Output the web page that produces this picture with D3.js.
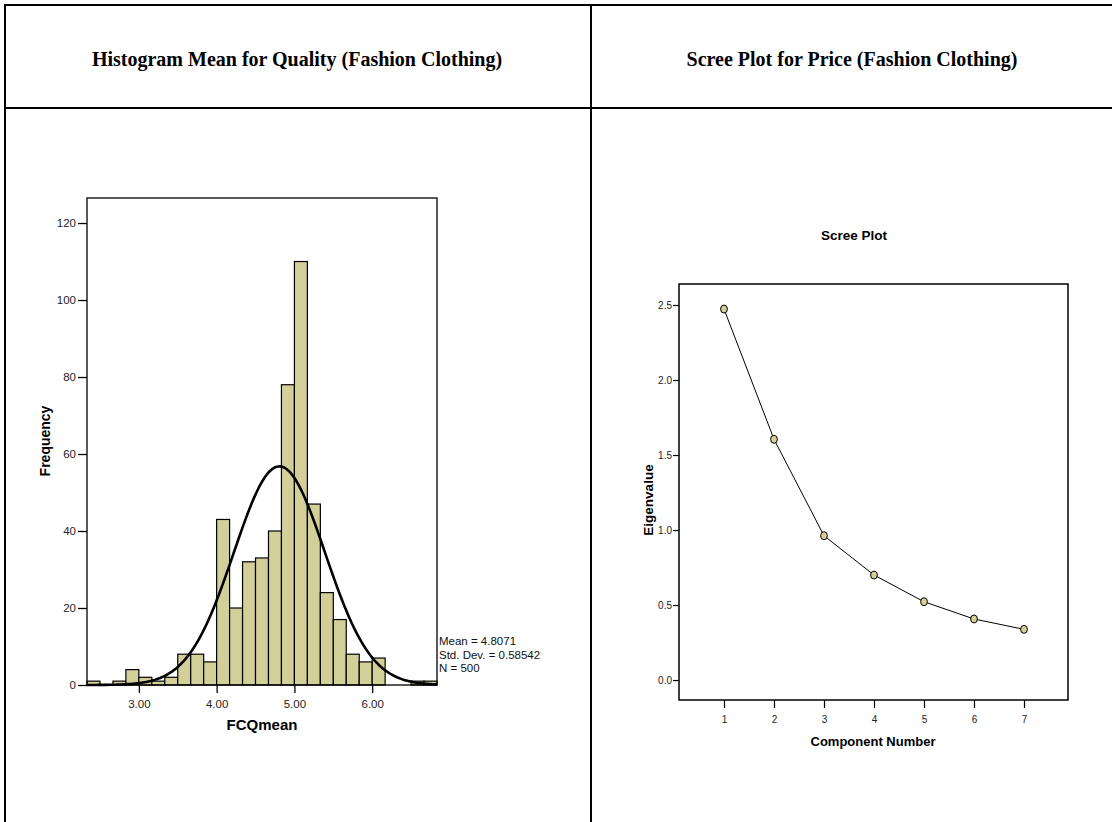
<!DOCTYPE html>
<html>
<head>
<meta charset="utf-8">
<script src="https://cdn.jsdelivr.net/npm/d3@7"></script>
<style>
  body { margin: 0; background: #fff; }
  svg { display: block; }
  .tick text { font-family: "Liberation Sans", Arial, sans-serif; fill: #222; }
</style>
</head>
<body>
<div id="chart"></div>
<script>
let width = 1112,
  height = 822

// histogram data (FCQmean)
let binStarts = [2.3333, 2.5, 2.6667, 2.8333, 3.0, 3.1667, 3.3333, 3.5, 3.6667, 3.8333,
  4.0, 4.1667, 4.3333, 4.5, 4.6667, 4.8333, 5.0, 5.1667, 5.3333, 5.5,
  5.6667, 5.8333, 6.0, 6.1667, 6.3333, 6.5, 6.6667]
let binWidth = 0.16667
let freqs = [1, 0, 1, 4, 2, 1, 2, 8, 8, 6,
  43, 20, 32, 33, 40, 78, 110, 47, 24, 17,
  8, 6, 7, 0, 0, 1, 1]
let histXTicks = [3, 4, 5, 6]
let histYTicks = [0, 20, 40, 60, 80, 100, 120]
let stats = { mean: 4.8071, sd: 0.58542, n: 500 }

// scree data
let components = [1, 2, 3, 4, 5, 6, 7]
let eigenvalues = [2.473, 1.605, 0.962, 0.700, 0.522, 0.407, 0.338]
let screeYTicks = [0.0, 0.5, 1.0, 1.5, 2.0, 2.5]

let titles = ['Histogram Mean for Quality (Fashion Clothing)', 'Scree Plot for Price (Fashion Clothing)']

let barFill = '#d3cf99'
let sans = '"Liberation Sans", Arial, sans-serif'

let svg = d3.select('#chart')
  .append('svg')
  .attr('width', width)
  .attr('height', height)

// table grid
let grid = svg.append('g').attr('stroke', '#000').attr('stroke-width', 2)
grid.append('line').attr('x1', 4).attr('x2', width).attr('y1', 5).attr('y2', 5)
grid.append('line').attr('x1', 4).attr('x2', width).attr('y1', 108).attr('y2', 108)
grid.append('line').attr('x1', 5).attr('x2', 5).attr('y1', 4).attr('y2', height)
grid.append('line').attr('x1', 591).attr('x2', 591).attr('y1', 4).attr('y2', height)

svg.selectAll('text.cell-title')
  .data(titles)
  .enter().append('text')
  .attr('class', 'cell-title')
  .attr('x', (d, i) => i == 0 ? 297 : 852)
  .attr('y', 66)
  .attr('text-anchor', 'middle')
  .attr('font-family', '"Liberation Serif", "Times New Roman", serif')
  .attr('font-weight', 'bold')
  .attr('font-size', '20px')
  .text(d => d)

// ---------- histogram ----------
let hx = d3.scaleLinear().domain([2.3333, 6.8333]).range([87, 437])
let hy = d3.scaleLinear().domain([0, 126.5]).range([685, 198])

let hist = svg.append('g')

hist.selectAll('rect.bar')
  .data(binStarts.map((b, i) => ({ x0: b, x1: b + binWidth, f: freqs[i] })))
  .enter().append('rect')
  .attr('class', 'bar')
  .attr('x', d => hx(d.x0))
  .attr('width', d => hx(d.x1) - hx(d.x0))
  .attr('y', d => hy(d.f))
  .attr('height', d => hy(0) - hy(d.f))
  .attr('fill', barFill)
  .attr('stroke', '#000')
  .attr('stroke-width', 1.2)

// fitted normal curve from the stated mean / sd / N
let normal = x => stats.n * binWidth * Math.exp(-0.5 * Math.pow((x - stats.mean) / stats.sd, 2)) / (stats.sd * Math.sqrt(2 * Math.PI))
let curveX = d3.range(hx.domain()[0], hx.domain()[1] + 0.001, 0.02)
hist.append('path')
  .datum(curveX)
  .attr('d', d3.line().x(d => hx(d)).y(d => hy(normal(d))))
  .attr('fill', 'none')
  .attr('stroke', '#000')
  .attr('stroke-width', 2.6)

// frame
hist.append('rect')
  .attr('x', 87).attr('y', 198)
  .attr('width', 350).attr('height', 487)
  .attr('fill', 'none')
  .attr('stroke', '#000')
  .attr('stroke-width', 1.3)

hist.append('g')
  .attr('transform', 'translate(0,685)')
  .call(d3.axisBottom(hx).tickValues(histXTicks).tickFormat(d3.format('.2f')).tickSize(8).tickSizeOuter(0))
  .call(g => g.select('.domain').remove())
  .call(g => g.selectAll('line').attr('stroke-width', 1.3))
  .call(g => g.selectAll('text').attr('font-size', '11.5px').attr('dy', '1.05em'))

hist.append('g')
  .attr('transform', 'translate(87,0)')
  .call(d3.axisLeft(hy).tickValues(histYTicks).tickSize(9).tickSizeOuter(0))
  .call(g => g.select('.domain').remove())
  .call(g => g.selectAll('line').attr('stroke-width', 1.3))
  .call(g => g.selectAll('text').attr('font-size', '11.5px').attr('x', -11))

hist.append('text')
  .attr('x', 262).attr('y', 730)
  .attr('text-anchor', 'middle')
  .attr('font-family', sans).attr('font-weight', 'bold').attr('font-size', '15px')
  .text('FCQmean')

hist.append('text')
  .attr('transform', 'translate(50,441) rotate(-90)')
  .attr('text-anchor', 'middle')
  .attr('font-family', sans).attr('font-weight', 'bold').attr('font-size', '14px')
  .text('Frequency')

hist.selectAll('text.stat')
  .data(['Mean = ' + stats.mean, 'Std. Dev. = ' + stats.sd, 'N = ' + stats.n])
  .enter().append('text')
  .attr('class', 'stat')
  .attr('x', 439)
  .attr('y', (d, i) => 645 + i * 13.5)
  .attr('font-family', sans).attr('font-size', '11.5px')
  .attr('fill', '#111')
  .text(d => d)

// ---------- scree plot ----------
let sx = d3.scaleLinear().domain([0.1, 7.88]).range([679, 1068])
let sy = d3.scaleLinear().domain([-0.133, 2.64]).range([700, 284])

let scree = svg.append('g')

scree.append('text')
  .attr('x', 854).attr('y', 240)
  .attr('text-anchor', 'middle')
  .attr('font-family', sans).attr('font-weight', 'bold').attr('font-size', '13.5px')
  .text('Scree Plot')

scree.append('rect')
  .attr('x', 679).attr('y', 284)
  .attr('width', 389).attr('height', 416)
  .attr('fill', 'none')
  .attr('stroke', '#000')
  .attr('stroke-width', 1.5)

let pts = components.map((c, i) => ({ c: c, v: eigenvalues[i] }))

scree.append('path')
  .datum(pts)
  .attr('d', d3.line().x(d => sx(d.c)).y(d => sy(d.v)))
  .attr('fill', 'none')
  .attr('stroke', '#000')
  .attr('stroke-width', 1)

scree.selectAll('ellipse')
  .data(pts)
  .enter().append('ellipse')
  .attr('cx', d => sx(d.c))
  .attr('cy', d => sy(d.v))
  .attr('rx', 3.4)
  .attr('ry', 4)
  .attr('fill', barFill)
  .attr('stroke', '#000')
  .attr('stroke-width', 1)

scree.append('g')
  .attr('transform', 'translate(0,700)')
  .call(d3.axisBottom(sx).tickValues(components).tickSize(8).tickSizeOuter(0))
  .call(g => g.select('.domain').remove())
  .call(g => g.selectAll('line').attr('stroke-width', 1.2))
  .call(g => g.selectAll('text').attr('font-size', '10px').attr('dy', '1.2em'))

scree.append('g')
  .attr('transform', 'translate(679,0)')
  .call(d3.axisLeft(sy).tickValues(screeYTicks).tickFormat(d3.format('.1f')).tickSize(6).tickSizeOuter(0))
  .call(g => g.select('.domain').remove())
  .call(g => g.selectAll('line').attr('stroke-width', 1.2))
  .call(g => g.selectAll('text').attr('font-size', '10px').attr('x', -7))

scree.append('text')
  .attr('x', 873).attr('y', 746)
  .attr('text-anchor', 'middle')
  .attr('font-family', sans).attr('font-weight', 'bold').attr('font-size', '13px')
  .text('Component Number')

scree.append('text')
  .attr('transform', 'translate(653,500) rotate(-90)')
  .attr('text-anchor', 'middle')
  .attr('font-family', sans).attr('font-weight', 'bold').attr('font-size', '13.5px')
  .text('Eigenvalue')
</script>
</body>
</html>
